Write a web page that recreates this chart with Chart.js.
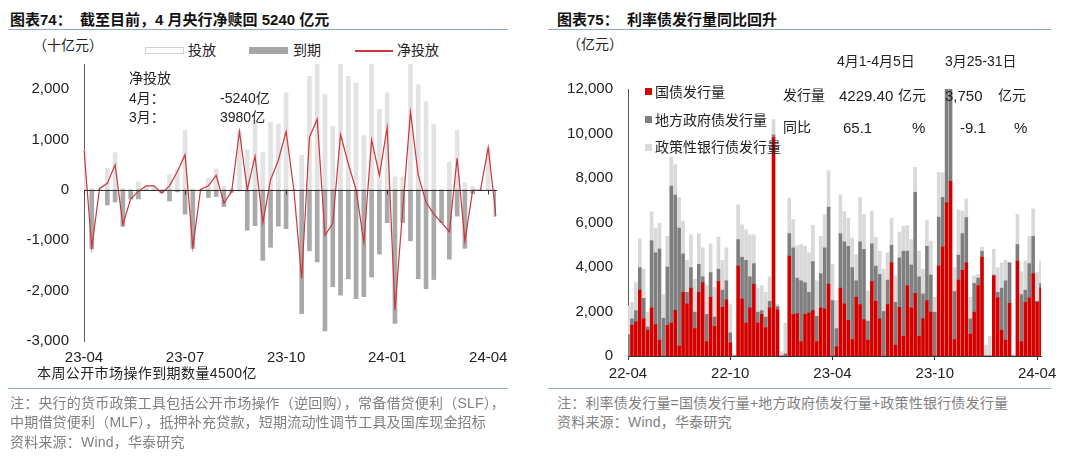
<!DOCTYPE html>
<html>
<head>
<meta charset="utf-8">
<script src="https://cdn.jsdelivr.net/npm/chart.js@4.4.1/dist/chart.umd.min.js"></script>
<style>
body{margin:0;width:1080px;height:458px;background:#fff;position:relative;overflow:hidden;font-family:"Liberation Sans","Noto Sans CJK SC",sans-serif;color:#222}
.t{position:absolute;white-space:pre;line-height:1}
.title{font-size:15px;font-weight:bold;top:12px;color:#111}
.rule{position:absolute;height:1px;background:#8fa9cf}
.note{font-size:14px;color:#7f7f7f;letter-spacing:0.2px}
.lab{font-size:14px;color:#222}
.box{position:absolute}
canvas{position:absolute}
</style>
</head>
<body>
<!-- left panel -->
<div class="t title" style="left:10px">图表74：  截至目前，4 月央行净赎回 5240 亿元</div>
<div class="rule" style="left:8px;width:500px;top:29px"></div>
<div class="t lab" style="left:33px;top:38px">（十亿元）</div>
<div class="box" style="left:145px;top:47px;width:37px;height:5px;border:1px solid #d0d0d0;background:#fff"></div>
<div class="t lab" style="left:188px;top:43px">投放</div>
<div class="box" style="left:249px;top:47px;width:39px;height:7px;background:#a6a6a6"></div>
<div class="t lab" style="left:293px;top:43px">到期</div>
<div class="box" style="left:355px;top:50px;width:38px;height:1.5px;background:#c8373c"></div>
<div class="t lab" style="left:397px;top:43px">净投放</div>
<canvas id="left" width="510" height="330" style="left:0;top:40px"></canvas>
<div class="t lab" style="left:129px;top:71px">净投放</div>
<div class="t lab" style="left:129px;top:91px">4月：</div>
<div class="t lab" style="left:220px;top:91px">-5240亿</div>
<div class="t lab" style="left:129px;top:110px">3月：</div>
<div class="t lab" style="left:220px;top:110px">3980亿</div>
<div class="t lab" style="left:37px;top:366px;letter-spacing:0.4px">本周公开市场操作到期数量4500亿</div>
<div class="rule" style="left:8px;width:500px;top:388px"></div>
<div class="t note" style="left:10px;top:396px">注：央行的货币政策工具包括公开市场操作（逆回购），常备借贷便利（SLF），</div>
<div class="t note" style="left:10px;top:415px">中期借贷便利（MLF），抵押补充贷款，短期流动性调节工具及国库现金招标</div>
<div class="t note" style="left:10px;top:435px">资料来源：Wind，华泰研究</div>

<!-- right panel -->
<div class="t title" style="left:557px">图表75：  利率债发行量同比回升</div>
<div class="rule" style="left:548px;width:503px;top:29px"></div>
<div class="t lab" style="left:567px;top:37px">（亿元）</div>
<canvas id="right" width="540" height="321" style="left:540px;top:65px"></canvas>
<div class="t lab" style="left:837px;top:54px">4月1-4月5日</div>
<div class="t lab" style="left:945px;top:54px">3月25-31日</div>
<div class="t lab" style="left:783px;top:88px">发行量</div>
<div class="t lab" style="left:839px;top:88px;font-size:15px">4229.40</div>
<div class="t lab" style="left:898px;top:88px">亿元</div>
<div class="t lab" style="left:945px;top:88px;font-size:15px">3,750</div>
<div class="t lab" style="left:998px;top:88px">亿元</div>
<div class="t lab" style="left:783px;top:120px">同比</div>
<div class="t lab" style="left:843px;top:120px;font-size:15px">65.1</div>
<div class="t lab" style="left:912px;top:120px;font-size:15px">%</div>
<div class="t lab" style="left:960px;top:120px;font-size:15px">-9.1</div>
<div class="t lab" style="left:1014px;top:120px;font-size:15px">%</div>
<div class="box" style="left:645px;top:88px;width:7px;height:7px;background:#d40000"></div>
<div class="t lab" style="left:655px;top:85px">国债发行量</div>
<div class="box" style="left:645px;top:116px;width:7px;height:7px;background:#7f7f7f"></div>
<div class="t lab" style="left:655px;top:113px">地方政府债发行量</div>
<div class="box" style="left:645px;top:144px;width:7px;height:7px;background:#d9d9d9"></div>
<div class="t lab" style="left:655px;top:140px">政策性银行债发行量</div>
<div class="rule" style="left:548px;width:503px;top:388px"></div>
<div class="t note" style="left:557px;top:396px">注：利率债发行量=国债发行量+地方政府债发行量+政策性银行债发行量</div>
<div class="t note" style="left:557px;top:415px">资料来源：Wind，华泰研究</div>

<script>
// ---- left: 公开市场操作 (十亿元), weekly
const leftTicks = ['23-04', '23-07', '23-10', '24-01', '24-04'];
const leftStep = 13;
const leftCount = 54;
const inject = [800, 20, 30, 430, 740, 30, 0, 160, 80, 80,
  0, 300, 400, 1180, 20, 10, 230, 420, 70, 20,
  1180, 800, 1380, 750, 1340, 1310, 1930, 0, 690, 2255,
  2830, 1895, 1260, 3190, 2255, 2125, 1080, 2725, 1600, 1930,
  260, 260, 2560, 2090, 1750, 1300, 0, 555, 1180, 145,
  65, 0, 840, 0];
const mature = [0, -1170, 0, -300, -240, -720, -180, -180, 0, 0,
  -60, -220, -40, -480, -1160, 0, -150, -130, -330, -50,
  -20, -800, -710, -1400, -1140, -720, -770, 0, -2455, -1210,
  -1430, -2800, -1920, -2090, -1765, -2160, -2120, -1730, -1275, -650,
  -2650, -650, -1010, -1765, -1960, -1780, -650, -1375, -520, -1160,
  -75, -10, 0, -524];
const netInject = [800, -1150, 30, 130, 500, -690, -180, -30, 80, 80,
  -60, 80, 360, 700, -1140, 10, 80, 290, -260, -30,
  1160, 0, 670, -650, 200, 590, 1160, 0, -1765, 1045,
  1405, -900, -670, 1100, 520, 0, -1040, 995, 290, 1240,
  -2390, -390, 1550, 290, -240, -480, -650, -830, 630, -1010,
  -10, -10, 840, -524];

// ---- right: 利率债发行 (亿元), weekly
const rightTicks = ['22-04', '22-10', '23-04', '23-10', '24-04'];
const rightStep = 26;
const rightCount = 106;
const govBond = [0, 1380, 1530, 2960, 1670, 1160, 2160, 1410, 710, 0,
  1380, 1480, 2050, 440, 2860, 2340, 3050, 1230, 2860, 3300,
  640, 2640, 1330, 3350, 2190, 2520, 590, 0, 4040, 2560,
  1480, 2160, 3230, 1480, 1870, 1270, 2160, 9820, 2070, 0,
  0, 4490, 1870, 1900, 640, 1870, 1930, 2040, 640, 2160,
  2120, 3230, 0, 410, 3050, 2340, 1600, 740, 2640, 2310,
  1630, 710, 3350, 2460, 1670, 0, 2310, 4190, 490, 2190,
  890, 3160, 2160, 2810, 890, 1670, 2490, 1970, 0, 4040,
  4900, 6880, 7850, 740, 3410, 3850, 4190, 980, 1970, 3160,
  4440, 0, 0, 3600, 2610, 1160, 710, 2370, 0, 4270,
  640, 2410, 2610, 3700, 2410, 3050];
const localBond = [960, 290, 510, 1010, 920, 140, 3020, 3230, 4100, 1700,
  2620, 6160, 5180, 5310, 1730, 520, 920, 740, 1260, 260,
  1230, 1110, 420, 550, 770, 860, 450, 0, 1190, 1880,
  2820, 1400, 920, 490, 170, 480, 300, 120, 150, 0,
  100, 1010, 2990, 1600, 2740, 1430, 930, 2200, 1140, 1540,
  2740, 3460, 2490, 820, 2450, 2790, 3330, 3230, 740, 2820,
  3160, 860, 1690, 1580, 2000, 2000, 1100, 790, 1920, 2220,
  3820, 1550, 1930, 4550, 2670, 1120, 2440, 1670, 1970, 2200,
  2230, 5400, 4300, 2160, 1120, 1650, 2030, 690, 1290, 340,
  270, 0, 0, 40, 250, 1890, 2670, 1820, 0, 740,
  2120, 550, 1540, 1680, 50, 210];
const policyBond = [1310, 740, 1260, 1300, 1310, 670, 1310, 1110, 1160, 1060,
  1380, 1310, 1370, 1370, 1470, 1440, 1480, 1480, 1380, 1300,
  1290, 1290, 1330, 1450, 1340, 1480, 1270, 0, 1560, 1460,
  1370, 1890, 1300, 1080, 1120, 1110, 1100, 690, 100, 190,
  1380, 1600, 1270, 1450, 1630, 1630, 1780, 1630, 1600, 1680,
  1500, 1640, 1630, 1260, 1740, 1360, 1260, 1330, 1180, 2000,
  1570, 1360, 1470, 1290, 1040, 1900, 1230, 1210, 1190, 1160,
  1110, 1160, 1140, 1120, 1150, 1110, 1160, 1520, 670, 2010,
  1100, 0, 0, 1070, 2040, 1020, 840, 970, 340, 170,
  180, 490, 890, 1150, 1110, 1140, 920, 0, 0, 1360,
  1030, 1310, 1230, 1230, 1290, 1010];

const leftLabels = Array.from({length: leftCount}, (_, i) => i % leftStep === 0 ? leftTicks[i / leftStep] : '');
const rightLabels = Array.from({length: rightCount}, (_, i) => i % rightStep === 0 ? (rightTicks[i / rightStep] || '') : '');

Chart.defaults.font.family = '"Liberation Sans", "Noto Sans CJK SC", sans-serif';
Chart.defaults.font.size = 15;
Chart.defaults.color = '#222';

// zero line and small ticks of the left chart
const zeroTicks = {
  id: 'zeroTicks',
  afterDatasetsDraw(chart) {
    const {ctx, scales: {x, y}} = chart;
    const y0 = Math.round(y.getPixelForValue(0)) + 0.5;
    ctx.save();
    ctx.strokeStyle = '#333';
    ctx.lineWidth = 1;
    ctx.beginPath();
    ctx.moveTo(chart.chartArea.left, y0);
    ctx.lineTo(chart.chartArea.right + 1, y0);
    leftLabels.forEach((l, i) => {
      if (!l) return;
      const px = Math.round(x.getPixelForValue(i)) + 0.5;
      ctx.moveTo(px, y0);
      ctx.lineTo(px, y0 + 4);
    });
    ctx.stroke();
    ctx.restore();
  }
};

new Chart(document.getElementById('left'), {
  type: 'bar',
  data: {
    labels: leftLabels,
    datasets: [
      {
        type: 'line',
        label: '净投放',
        data: netInject,
        borderColor: '#c8373c',
        borderWidth: 1.2,
        pointRadius: 0,
        tension: 0,
        order: 0,
      },
      {
        label: '投放',
        data: inject,
        backgroundColor: '#e3e3e3',
        barThickness: 4,
        grouped: false,
        order: 2,
      },
      {
        label: '到期',
        data: mature,
        backgroundColor: '#a9a9a9',
        barThickness: 4,
        grouped: false,
        order: 1,
      },
    ],
  },
  options: {
    responsive: false,
    animation: false,
    layout: {padding: {top: 5, right: 14, left: 0, bottom: 0}},
    plugins: {legend: {display: false}, tooltip: {enabled: false}},
    scales: {
      x: {
        offset: false,
        grid: {display: false, drawTicks: false},
        border: {display: false},
        ticks: {autoSkip: false, maxRotation: 0, padding: 8, color: '#222'},
        afterFit: s => { s.height = 29; },
      },
      y: {
        min: -3000,
        max: 2500,
        grid: {display: false, drawTicks: false},
        border: {display: true, color: '#595959'},
        ticks: {
          stepSize: 500,
          autoSkip: false,
          padding: 15,
          color: '#222',
          callback: v => v % 1000 === 0 ? v.toLocaleString('en-US') : '',
        },
        afterFit: s => { s.width = 84; },
      },
    },
  },
  plugins: [zeroTicks],
});

new Chart(document.getElementById('right'), {
  type: 'bar',
  data: {
    labels: rightLabels,
    datasets: [
      {label: '国债发行量', data: govBond, backgroundColor: '#d40000'},
      {label: '地方政府债发行量', data: localBond, backgroundColor: '#7f7f7f'},
      {label: '政策性银行债发行量', data: policyBond, backgroundColor: '#d9d9d9'},
    ],
  },
  options: {
    responsive: false,
    animation: false,
    layout: {padding: {top: 13, right: 39, left: 0, bottom: 0}},
    datasets: {bar: {barThickness: 3}},
    plugins: {legend: {display: false}, tooltip: {enabled: false}},
    scales: {
      x: {
        stacked: true,
        offset: false,
        grid: {
          offset: false,
          drawOnChartArea: false,
          drawTicks: true,
          tickLength: 4,
          color: c => rightLabels[c.index] ? '#333' : 'rgba(0,0,0,0)',
        },
        border: {display: true, color: '#333'},
        ticks: {autoSkip: false, maxRotation: 0, padding: 5, color: '#222'},
        afterFit: s => { s.height = 30; },
      },
      y: {
        stacked: true,
        min: 0,
        max: 12000,
        grid: {display: false, drawTicks: false},
        border: {display: true, color: '#595959'},
        ticks: {stepSize: 2000, padding: 15, color: '#222'},
        afterFit: s => { s.width = 88; },
      },
    },
  },
});
</script>
</body>
</html>
